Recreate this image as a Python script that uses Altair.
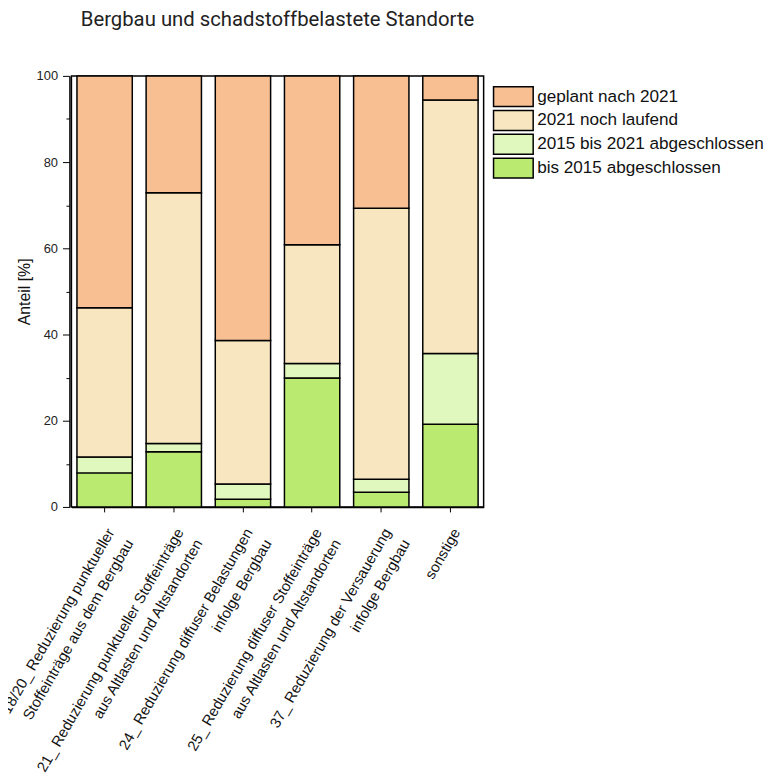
import altair as alt
import pandas as pd

categories = [
    "18/20_ Reduzierung punktueller|Stoffeinträge aus dem Bergbau",
    "21_ Reduzierung punktueller Stoffeinträge|aus Altlasten und Altstandorten",
    "24_ Reduzierung diffuser Belastungen|infolge Bergbau",
    "25_ Reduzierung diffuser Stoffeinträge|aus Altlasten und Altstandorten",
    "37_ Reduzierung der Versauerung|infolge Bergbau",
    "sonstige",
]
series = ["bis 2015 abgeschlossen", "2015 bis 2021 abgeschlossen",
          "2021 noch laufend", "geplant nach 2021"]
bis_2015 = [7.9, 12.8, 1.8, 29.9, 3.4, 19.2]
bis_2021 = [3.7, 1.9, 3.5, 3.4, 3.0, 16.4]
laufend = [34.6, 58.2, 33.3, 27.5, 62.9, 58.8]
geplant = [53.8, 27.1, 61.4, 39.2, 30.7, 5.6]

legend_order = ["geplant nach 2021", "2021 noch laufend",
                "2015 bis 2021 abgeschlossen", "bis 2015 abgeschlossen"]
colors = ["#F7BF92", "#F8E6C0", "#E0F7BE", "#BAEB70"]

rows = []
for si, (name, vals) in enumerate(zip(series, [bis_2015, bis_2021, laufend, geplant])):
    for c, v in zip(categories, vals):
        rows.append({"Kategorie": c, "Status": name, "Anteil": v, "stack": si})
df = pd.DataFrame(rows)

chart = alt.Chart(df).mark_bar(stroke="black", strokeWidth=1.5).encode(
    x=alt.X("Kategorie:N", sort=categories,
            scale=alt.Scale(paddingInner=0.2, paddingOuter=0.08),
            axis=alt.Axis(title=None, labelAngle=-60, labelAlign="right",
                          labelBaseline="top", labelPadding=14, labelLimit=0,
                          labelExpr="split(datum.label, '|')",
                          labelLineHeight=22, labelFont="Liberation Sans",
                          labelFontSize=15, labelColor="#111",
                          tickSize=5, tickColor="black", domainColor="black",
                          domainWidth=1.5)),
    y=alt.Y("Anteil:Q", stack="zero",
            scale=alt.Scale(domain=[0, 100], nice=False),
            axis=alt.Axis(title="Anteil [%]", values=list(range(0, 101, 10)),
                          labelExpr="datum.value % 20 === 0 ? datum.label : ''",
                          tickSize={"condition": {"test": "datum.value % 20 === 0", "value": 7}, "value": 3.5},
                          tickColor="black", domainColor="black", domainWidth=1.5,
                          offset=2, grid=False, labelPadding=5,
                          labelFont="Liberation Sans", labelFontSize=13,
                          labelColor="#222", titleFont="Liberation Sans",
                          titleFontSize=16, titleFontWeight="normal",
                          titleColor="#111", titlePadding=4)),
    color=alt.Color("Status:N", scale=alt.Scale(domain=legend_order, range=colors),
                    legend=alt.Legend(title=None, orient="none", legendX=435, legendY=10,
                                      symbolType="M-2,-1H2V1H-2Z", symbolSize=400,
                                      symbolStrokeColor="black", symbolStrokeWidth=1.5,
                                      symbolOpacity=1, rowPadding=-3,
                                      labelFont="Liberation Sans", labelFontSize=17.3,
                                      labelColor="#111", labelOffset=13, labelLimit=0)),
    order=alt.Order("stack:Q", sort="ascending"),
).properties(
    width=416, height=435,
    title=alt.TitleParams("Bergbau und schadstoffbelastete Standorte", font="Roboto",
                          fontSize=20.5, fontWeight="normal", color="#222",
                          anchor="middle", offset=40),
    autosize=alt.AutoSizeParams(type="none"),
    padding={"left": 64, "top": 65, "right": 290, "bottom": 265},
).configure_view(stroke="black", strokeWidth=1.5)

chart.save("out.html", embed_options={"renderer": "svg", "actions": False})
